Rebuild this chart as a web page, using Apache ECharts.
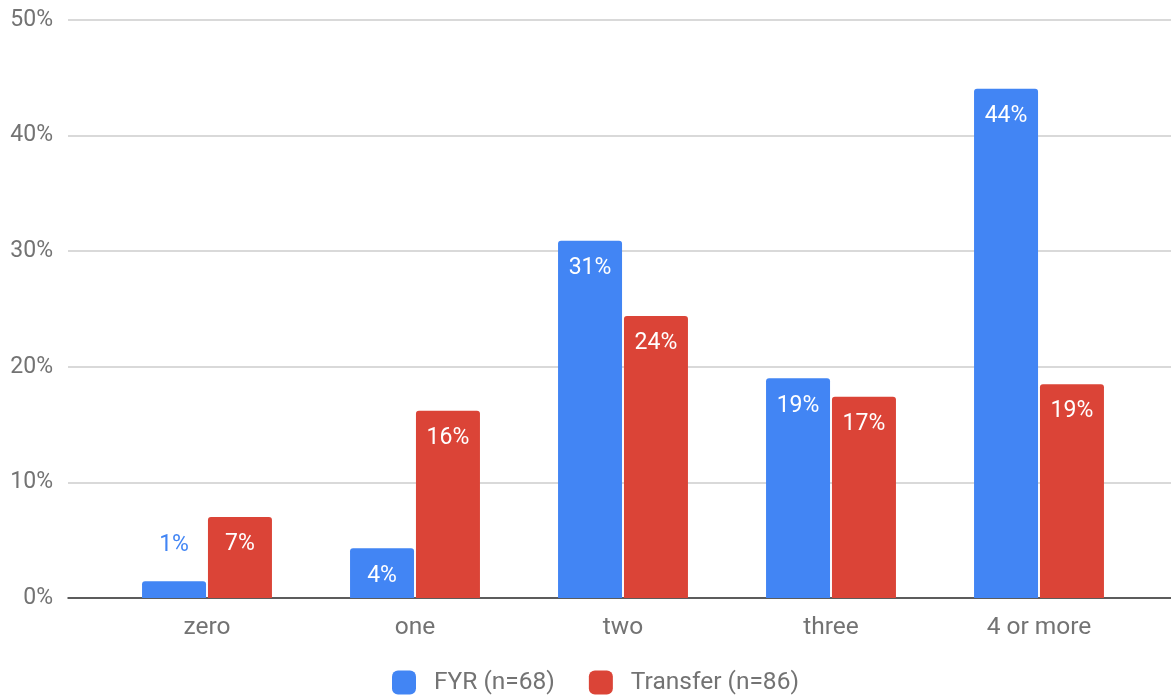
<!DOCTYPE html>
<html>
<head>
<meta charset="utf-8">
<style>
  html, body { margin: 0; padding: 0; background: #fff; }
  #chart { width: 1171px; height: 698px; }
</style>
<script src="https://cdn.jsdelivr.net/npm/echarts@6/dist/echarts.min.js"></script>
</head>
<body>
<div id="chart"></div>
<script>
// Number of courses, share of students in each group
const categories = ['zero', 'one', 'two', 'three', '4 or more'];
const fyrValues = [1.45, 4.3, 30.9, 19.0, 44.05];
const transferValues = [7.0, 16.2, 24.4, 17.4, 18.5];
const seriesNames = ['FYR (n=68)', 'Transfer (n=86)'];
const yTicks = { min: 0, max: 50, interval: 10 };

const BLUE = '#4285F4';
const RED = '#DB4437';
const FONT = 'Roboto';
const TEXT_GREY = '#737373';

const chart = echarts.init(document.getElementById('chart'), null, { renderer: 'canvas' });

const pct = v => Math.round(v) + '%';

// Values too small to hold their label inside the bar get it above the bar.
function barData(values, color) {
  return values.map(v => {
    if (v < 3) {
      return {
        value: v,
        label: { position: 'top', distance: 24, color: color }
      };
    }
    return v;
  });
}

const option = {
  animation: false,
  textStyle: { fontFamily: FONT },
  grid: [
    // full-width grid carrying the gridlines, y labels and baseline
    { left: 68, right: 0, top: 20, bottom: 100 },
    // grid holding the bars
    { left: 103, right: 28, top: 20, bottom: 100 }
  ],
  xAxis: [
    {
      gridIndex: 0, type: 'value', min: 0, max: 1,
      axisLine: { show: true, lineStyle: { color: '#333', width: 1.5 } },
      axisTick: { show: false }, axisLabel: { show: false }, splitLine: { show: false }
    },
    {
      gridIndex: 1, type: 'category', data: categories,
      axisLine: { show: false }, axisTick: { show: false },
      axisLabel: { color: TEXT_GREY, fontSize: 24.5, fontFamily: FONT, margin: 17 }
    }
  ],
  yAxis: [
    {
      gridIndex: 0, type: 'value', min: yTicks.min, max: yTicks.max, interval: yTicks.interval,
      axisLine: { show: false }, axisTick: { show: false },
      axisLabel: { formatter: '{value}%', color: TEXT_GREY, fontSize: 23, fontFamily: FONT, margin: 15 },
      splitLine: { lineStyle: { color: '#cccccc', width: 1.5 } }
    },
    {
      gridIndex: 1, type: 'value', min: yTicks.min, max: yTicks.max, interval: yTicks.interval,
      axisLine: { show: false }, axisTick: { show: false },
      axisLabel: { show: false }, splitLine: { show: false }
    }
  ],
  legend: {
    data: seriesNames,
    left: 387, top: 665,
    itemWidth: 24, itemHeight: 24, itemGap: 34,
    icon: 'roundRect',
    textStyle: { color: TEXT_GREY, fontSize: 24.5, fontFamily: FONT, padding: [0, 0, 0, 13] }
  },
  series: [
    {
      name: seriesNames[0], type: 'bar', xAxisIndex: 1, yAxisIndex: 1,
      data: barData(fyrValues, BLUE),
      barWidth: 64, barGap: '3%',
      itemStyle: { color: BLUE, borderRadius: [3, 3, 0, 0] },
      label: {
        show: true, position: 'insideTop', distance: 16,
        color: '#fff', fontSize: 23, fontFamily: FONT, formatter: p => pct(p.value)
      }
    },
    {
      name: seriesNames[1], type: 'bar', xAxisIndex: 1, yAxisIndex: 1,
      data: barData(transferValues, RED),
      barWidth: 64, barGap: '3%',
      itemStyle: { color: RED, borderRadius: [3, 3, 0, 0] },
      label: {
        show: true, position: 'insideTop', distance: 16,
        color: '#fff', fontSize: 23, fontFamily: FONT, formatter: p => pct(p.value)
      }
    }
  ]
};

chart.setOption(option);
</script>
</body>
</html>
